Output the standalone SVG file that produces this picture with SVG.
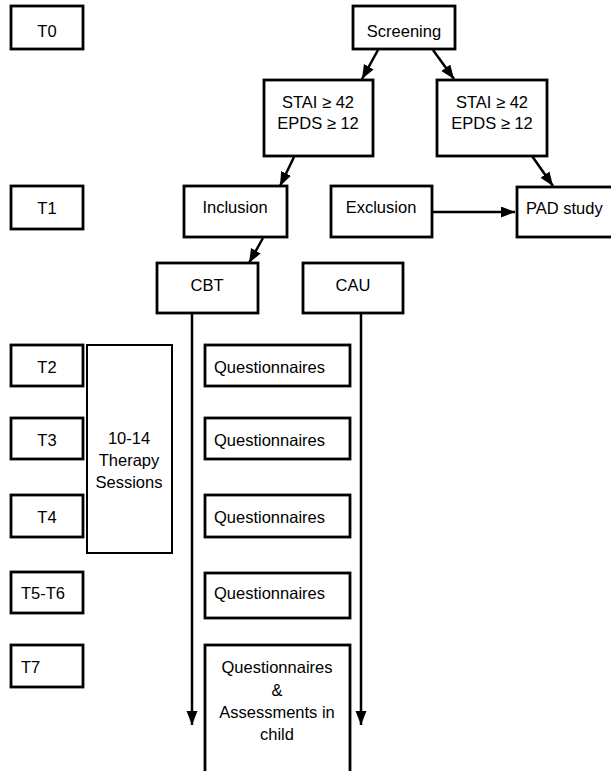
<svg xmlns="http://www.w3.org/2000/svg" width="611" height="771" viewBox="0 0 611 771">
<style>
rect{fill:#fff;stroke:#000;stroke-width:2.8}
rect.thin{stroke-width:2}
text{font-family:"Liberation Sans",Arial,sans-serif;font-size:16.5px;fill:#000}
.c{text-anchor:middle}
#connectors line{stroke:#000;stroke-width:2.5;marker-end:url(#ah)}
</style>
<defs>
<marker id="ah" markerUnits="userSpaceOnUse" markerWidth="15" markerHeight="12" refX="14" refY="5.5" orient="auto">
<path d="M0,0 L14,5.5 L0,11 Z" fill="#000"/>
</marker>
</defs>
<rect x="0" y="0" width="611" height="771" style="stroke:none"/>
<g id="t0"><rect x="11" y="6" width="72" height="43"/><text class="c" x="47" y="37">T0</text></g>
<g id="screening"><rect x="353" y="6" width="102" height="43"/><text class="c" x="404" y="37">Screening</text></g>
<g id="stai-left"><rect x="264" y="80" width="109" height="76"/><text class="c" x="318" y="108">STAI ≥ 42</text><text class="c" x="318" y="129">EPDS ≥ 12</text></g>
<g id="stai-right"><rect x="437" y="80" width="110" height="76"/><text class="c" x="492" y="108">STAI ≥ 42</text><text class="c" x="492" y="129">EPDS ≥ 12</text></g>
<g id="t1"><rect x="11" y="186" width="72" height="43"/><text class="c" x="47" y="214">T1</text></g>
<g id="inclusion"><rect x="184" y="186" width="103" height="51"/><text class="c" x="235" y="213">Inclusion</text></g>
<g id="exclusion"><rect x="331" y="186" width="101" height="51"/><text class="c" x="381" y="213">Exclusion</text></g>
<g id="pad"><rect x="517" y="187" width="100" height="50"/><text x="526" y="214">PAD study</text></g>
<g id="cbt"><rect x="157" y="263" width="101" height="50"/><text class="c" x="207" y="291">CBT</text></g>
<g id="cau"><rect x="303" y="263" width="100" height="50"/><text class="c" x="353" y="291">CAU</text></g>
<g id="t2"><rect x="11" y="345" width="72" height="41"/><text class="c" x="47" y="373">T2</text></g>
<g id="therapy"><rect class="thin" x="87" y="345" width="85" height="208"/><text class="c" x="129" y="444">10-14</text><text class="c" x="129" y="466">Therapy</text><text class="c" x="129" y="488">Sessions</text></g>
<g id="q1"><rect x="205" y="345" width="145" height="41"/><text x="214" y="373">Questionnaires</text></g>
<g id="t3"><rect x="11" y="418" width="72" height="41"/><text class="c" x="47" y="446">T3</text></g>
<g id="q2"><rect x="205" y="418" width="145" height="41"/><text x="214" y="446">Questionnaires</text></g>
<g id="t4"><rect x="11" y="495" width="72" height="42"/><text class="c" x="47" y="523">T4</text></g>
<g id="q3"><rect x="205" y="495" width="145" height="42"/><text x="214" y="523">Questionnaires</text></g>
<g id="t5t6"><rect x="11" y="572" width="72" height="41"/><text x="21" y="599">T5-T6</text></g>
<g id="q4"><rect x="205" y="573" width="145" height="45"/><text x="214" y="599">Questionnaires</text></g>
<g id="t7"><rect x="11" y="645" width="72" height="42"/><text x="21" y="673">T7</text></g>
<g id="q5"><rect x="205" y="645" width="145" height="140"/><text class="c" x="277" y="673">Questionnaires</text><text class="c" x="277" y="696">&amp;</text><text class="c" x="277" y="718">Assessments in</text><text class="c" x="277" y="740">child</text></g>
<g id="connectors">
<line x1="378" y1="50" x2="362" y2="79"/>
<line x1="433" y1="50" x2="454" y2="79"/>
<line x1="294" y1="157" x2="280" y2="186"/>
<line x1="532" y1="156" x2="553" y2="186"/>
<line x1="433" y1="212" x2="515" y2="212"/>
<line x1="263" y1="238" x2="249" y2="263"/>
<line x1="192" y1="313" x2="192" y2="725"/>
<line x1="361" y1="313" x2="361" y2="725"/>
</g>
</svg>
